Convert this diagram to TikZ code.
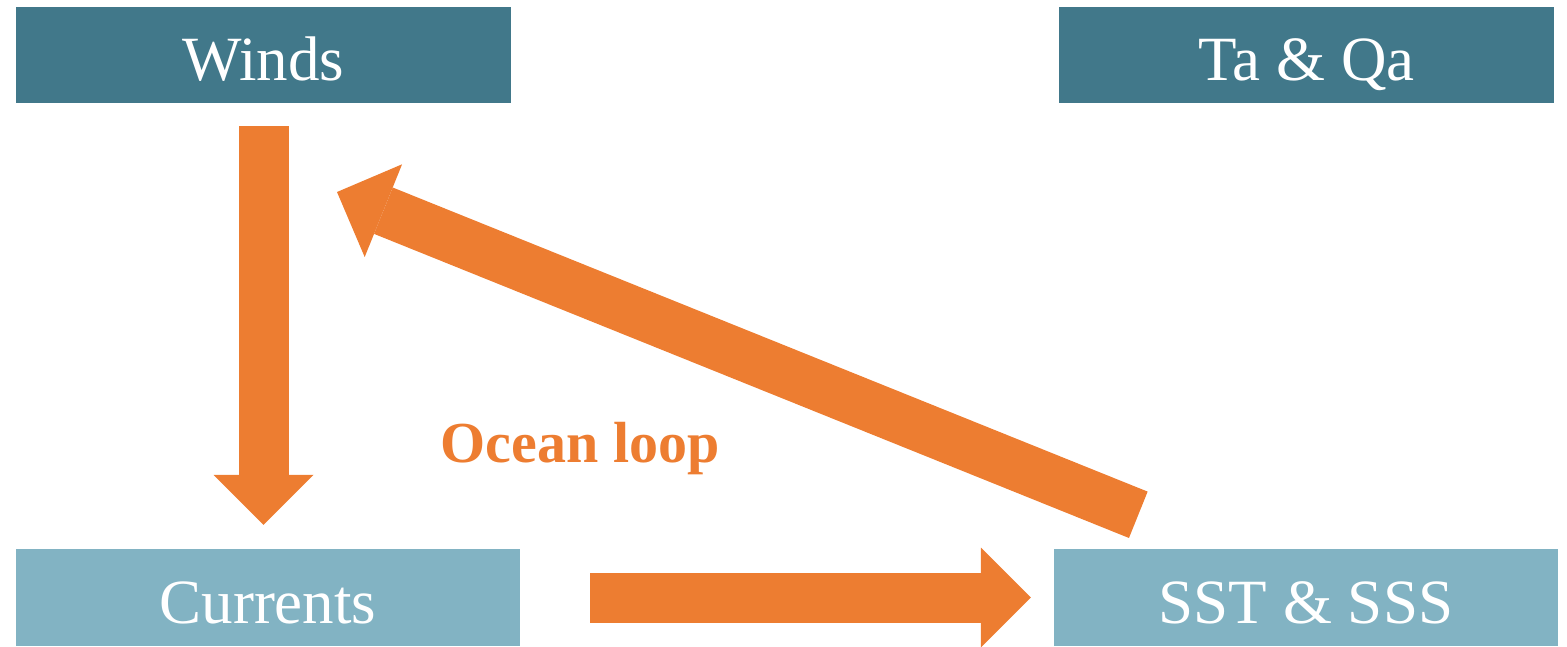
\documentclass[tikz,border=0pt]{standalone}
\usepackage{fontspec}
\setmainfont{Liberation Serif}
\usetikzlibrary{arrows.meta}
\definecolor{darkteal}{HTML}{41788A}
\definecolor{lightteal}{HTML}{82B3C3}
\definecolor{oorange}{HTML}{ED7D31}
\tikzset{
  box/.style={inner sep=0pt, minimum height=96pt, text=white,
    text height=58pt, text depth=6pt,
    font=\fontsize{63}{70}\selectfont},
  topbox/.style={box, fill=darkteal, minimum width=495pt},
  botbox/.style={box, fill=lightteal, minimum width=504pt, minimum height=97pt},
  bigarrow/.style={draw=oorange, line width=50pt,
    -{Triangle[length=50pt,width=100pt,line width=0pt,fill=oorange,color=oorange]}},
  looplabel/.style={text=oorange, font=\fontsize{58}{64}\selectfont\bfseries, inner sep=0pt}
}
\begin{document}
\begin{tikzpicture}[x=1pt,y=1pt]
\useasboundingbox (0,0) rectangle (1567,646);
\node[topbox] (winds) at (263.5,591) {Winds};
\node[topbox] (taqa) at (1306.5,591) {Ta \& Qa};
\node[botbox] (currents) at (268,48.5) {Currents};
\node[botbox] (sst) at (1306,48.5) {SST \& SSS};
\coordinate (dtail) at (1138.3,131.2);
\coordinate (dtip) at (337,454);
\draw[bigarrow] ([yshift=-23pt]winds.south) -- ([yshift=24pt]winds.south |- currents.north);
\draw[bigarrow] ([xshift=70pt]currents.east) -- ([xshift=-23pt]sst.west);
\draw[bigarrow] (dtail) -- (dtip);
\node[looplabel, anchor=base] (loop) at (580,183) {Ocean loop};
\end{tikzpicture}
\end{document}
